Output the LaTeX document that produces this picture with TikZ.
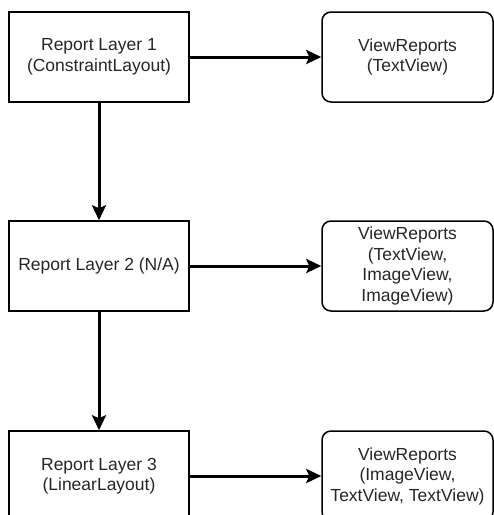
\documentclass[tikz,border=0pt]{standalone}
\usepackage{fontspec}
\setmainfont{Liberation Sans}
\usepackage{tikz}
\usetikzlibrary{arrows.meta}
\tikzstyle{layer}=[draw, line width=1.5pt, minimum width=180pt, minimum height=90pt, align=center, font=\fontsize{17.5}{20.5}\selectfont, text=black!85]
\tikzstyle{view}=[layer, rounded corners=9pt, minimum width=171pt]
\tikzstyle{arrow}=[draw=black, line width=3pt, >={Stealth[length=15pt, width=14pt, inset=3pt]}]

\begin{document}
\begin{tikzpicture}[x=1pt, y=-1pt]
		   \useasboundingbox (0, 0) rectangle (494, 515);
		   \begin{scope}
			   \node (l1) at (99, 57)[layer] {Report Layer 1\\(ConstraintLayout)};
			   \node (l2) at (99, 266)[layer] {Report Layer 2 (N/A)};
			   \node (l3) at (99, 476)[layer] {Report Layer 3\\(LinearLayout)};
			   \node (v1) at (407.5, 57)[view] {ViewReports\\(TextView)};
			   \node (v2) at (407.5, 266)[view] {ViewReports\\(TextView,\\ImageView,\\ImageView)};
			   \node (v3) at (407.5, 476)[view] {ViewReports\\(ImageView,\\TextView, TextView)};
		   \end{scope}
		   \begin{scope}[arrow]
			   \path [->] (l1) edge (v1);
			   \path [->] (l2) edge (v2);
			   \path [->] (l3) edge (v3);
			   \path [->] (l1) edge (l2);
			   \path [->] (l2) edge (l3);
		   \end{scope}
	   \end{tikzpicture}
\end{document}
